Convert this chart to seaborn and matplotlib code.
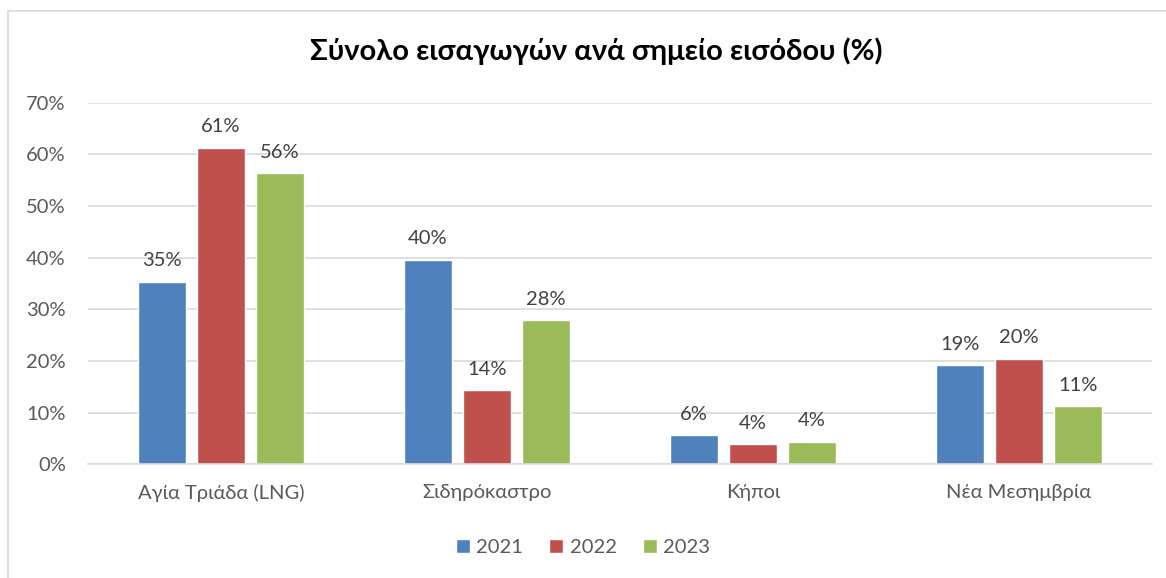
import pandas as pd
import matplotlib.pyplot as plt
import seaborn as sns
from matplotlib.patches import Rectangle
from matplotlib.ticker import PercentFormatter

# Data
categories = ['Αγία Τριάδα (LNG)', 'Σιδηρόκαστρο', 'Κήποι', 'Νέα Μεσημβρία']
years = ['2021', '2022', '2023']
values_2021 = [35.3, 39.6, 5.6, 19.2]
values_2022 = [61.3, 14.3, 3.9, 20.4]
values_2023 = [56.4, 27.9, 4.3, 11.2]
labels_2021 = ['35%', '40%', '6%', '19%']
labels_2022 = ['61%', '14%', '4%', '20%']
labels_2023 = ['56%', '28%', '4%', '11%']

df = pd.DataFrame({
    'Σημείο': categories * 3,
    'Έτος': [y for y in years for _ in categories],
    'Τιμή': values_2021 + values_2022 + values_2023,
})
bar_labels = [labels_2021, labels_2022, labels_2023]

sns.set_style('white')
plt.rcParams['font.family'] = ['Lato', 'DejaVu Sans']

colors = ['#4F81BD', '#C0504D', '#9BBB59']
text_color = '#595959'

fig = plt.figure(figsize=(11.66, 5.78), dpi=100)
ax = fig.add_axes([0.0755, 0.197, 0.9125, 0.625])

sns.barplot(data=df, x='Σημείο', y='Τιμή', hue='Έτος', palette=colors,
            width=0.665, gap=0.2, ax=ax, saturation=1, legend=True)

for cont, labs in zip(ax.containers, bar_labels):
    ax.bar_label(cont, labels=labs, padding=9, fontsize=14.5, color='#404040')

ax.set_ylim(0, 70)
ax.set_yticks(range(0, 71, 10))
ax.yaxis.set_major_formatter(PercentFormatter(decimals=0))
ax.grid(axis='y', color='#D9D9D9', linewidth=1.2)
ax.set_axisbelow(True)
for s in ['top', 'right', 'left']:
    ax.spines[s].set_visible(False)
ax.spines['bottom'].set_color('#D9D9D9')
ax.spines['bottom'].set_linewidth(1.2)
ax.tick_params(axis='both', length=0, labelsize=14.5, colors=text_color)
ax.tick_params(axis='x', pad=14)
ax.tick_params(axis='y', pad=16)
ax.set_xlabel('')
ax.set_ylabel('')

fig.text(0.511, 0.912, 'Σύνολο εισαγωγών ανά σημείο εισόδου (%)',
         ha='center', va='center', fontsize=21, fontweight='bold', color='black')

ax.legend(loc='center', bbox_to_anchor=(0.5, 0.5), bbox_transform=fig.transFigure,
          ncol=3, frameon=False, fontsize=14.5, handlelength=0.7, handleheight=0.7,
          handletextpad=0.3, columnspacing=1.3, labelcolor=text_color)
leg = ax.get_legend()
leg.set_bbox_to_anchor((0.5, 0.052), transform=fig.transFigure)

# chart frame
fig.patches.append(Rectangle((8 / 1166, -0.01), 1.02, 0.991, transform=fig.transFigure,
                             fill=False, edgecolor='#D9D9D9', linewidth=1.2))

fig.savefig('out.png', dpi=100)
